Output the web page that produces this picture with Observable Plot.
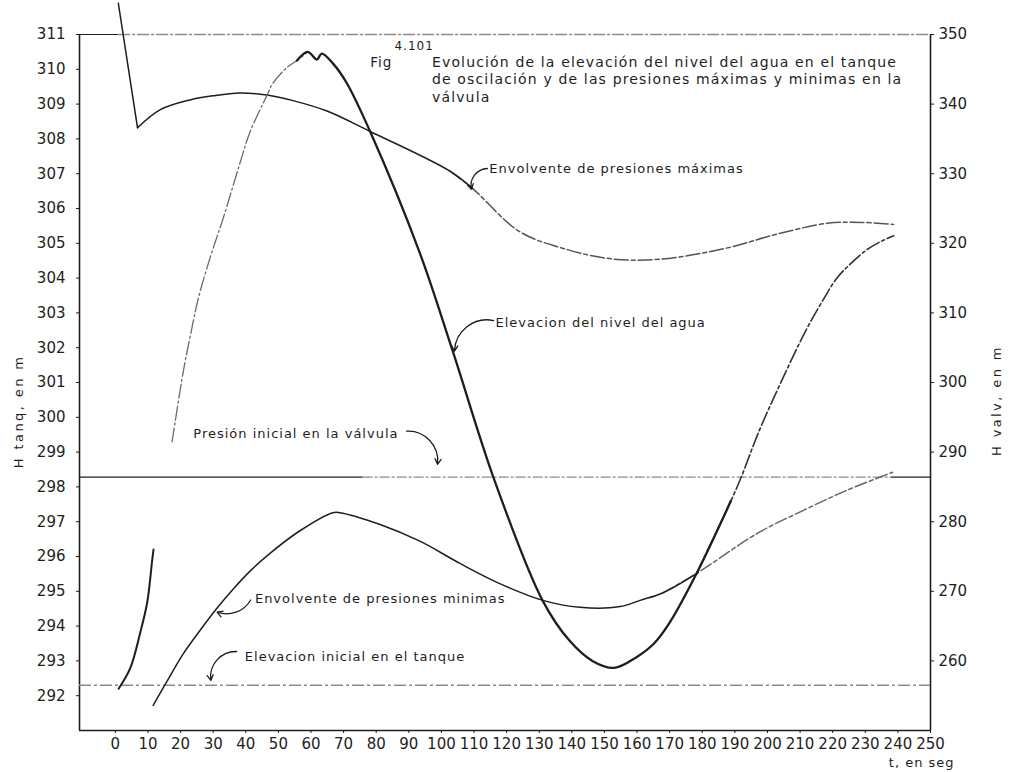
<!DOCTYPE html>
<html>
<head>
<meta charset="utf-8">
<script src="https://cdn.jsdelivr.net/npm/d3@7"></script>
<script src="https://cdn.jsdelivr.net/npm/@observablehq/plot@0.6"></script>
<style>
  body { margin: 0; background: #fff; }
  #chart svg { font-family: "DejaVu Sans", sans-serif; }
  #chart g[aria-label="text"] text { letter-spacing: 1px; }
</style>
</head>
<body>
<div id="chart"></div>
<script>
// Elevación del nivel del agua en el tanque, H tanq (m), contra t (s)
const tiempoNivel = [1, 4.6, 7.6, 9.8, 11.3, 11.7,
  17.4, 20.8, 22.9, 25.4, 29.1, 33.0, 38.2, 41.3, 46.5, 48.3, 52.6, 55.7,
  59.0, 61.8, 63.3, 66.7, 71.0, 78.0, 93.3, 103.4, 116.3, 131.0, 139.2,
  146.3, 153.0, 159.7, 165.2, 169.8, 178.4, 188.8, 191.9, 197.4, 204.4, 211.8,
  217.3, 221.2, 224.9, 230.1, 234.1, 238.7];
const nivelAgua = [292.2, 292.8, 293.8, 294.7, 295.9, 296.2,
  299.3, 301.3, 302.3, 303.4, 304.6, 305.7, 307.3, 308.2, 309.25, 309.6, 310.05, 310.25,
  310.5, 310.28, 310.45, 310.17, 309.6, 308.24, 304.74, 301.92, 298.18, 294.74, 293.59,
  293.0, 292.8, 293.1, 293.5, 294.07, 295.54, 297.6, 298.27, 299.6, 301.06, 302.5,
  303.41, 303.99, 304.36, 304.79, 305.02, 305.22];

// Envolvente de presiones máximas en la válvula, H valv (m)
const tiempoMax = [0.9, 6.8, 13.8, 22.9, 30.0, 38.2, 46.5, 54.5, 64.9, 78.0, 102.5,
  109.5, 123.9, 137.1, 151.5, 166.8, 187.3, 203.5, 218.8, 228.9, 238.7];
const presionMax = [354.5, 336.6, 339.2, 340.6, 341.2, 341.6, 341.3, 340.5, 339.0, 336.1, 330.4,
  327.9, 321.7, 319.3, 317.8, 317.7, 319.3, 321.4, 322.9, 323.0, 322.7];

// Envolvente de presiones mínimas en la válvula, H valv (m)
const tiempoMin = [11.6, 16.0, 20.8, 26.0, 31.2, 36.1, 41.3, 46.5, 56.6, 66.7, 68.8, 81.2,
  93.4, 105.7, 117.9, 131.1, 142.5, 154.8, 160.9, 168.0, 178.7, 196.8, 210.9, 224.3, 238.4];
const presionMin = [253.6, 257.2, 261.0, 264.4, 267.6, 270.3, 272.9, 275.1, 278.7, 281.3, 281.3, 279.6,
  277.2, 274.0, 271.1, 268.7, 267.7, 267.8, 268.7, 269.8, 272.7, 278.3, 281.6, 284.5, 287.1];

// Condiciones iniciales
const presionInicialValvula = 286.4;   // H valv (m)
const elevacionInicialTanque = 292.3;  // H tanq (m)

// Marcas de los ejes
const ticksTiempo = d3.range(0, 251, 10);
const ticksTanque = d3.range(292, 312);
const ticksValvula = d3.range(260, 351, 10);

// Rótulos del dibujo
const rotulos = [
  {texto: "Envolvente de presiones máximas", t: 114.7, h: 307.15},
  {texto: "Elevacion del nivel del agua", t: 116.6, h: 302.72},
  {texto: "Presión inicial en la válvula", t: 23.9, h: 299.53},
  {texto: "Envolvente de presiones minimas", t: 42.8, h: 294.79},
  {texto: "Elevacion inicial en el tanque", t: 39.7, h: 293.13}
];
const flechas = [
  {t1: 114.1, h1: 307.15, t2: 109.2, h2: 306.55, giro: -50},
  {t1: 116.0, h1: 302.78, t2: 104.0, h2: 301.9, giro: -50},
  {t1: 89.3, h1: 299.6, t2: 98.8, h2: 298.65, giro: 50},
  {t1: 41.5, h1: 294.75, t2: 31.2, h2: 294.4, giro: 40},
  {t1: 37.2, h1: 293.27, t2: 29.3, h2: 292.44, giro: -50}
];
const tituloFig = [
  "Evolución de la elevación del nivel del agua en el tanque",
  "de oscilación y de las presiones máximas y minimas en la",
  "válvula"
];
const rotulosEjes = ["H tanq, en m", "H valv, en m"];

// H valv = 5·H tanq − 1205: ambas escalas comparten la vertical
const aTanque = hv => (hv + 1205) / 5;

const nivel = tiempoNivel.map((t, i) => ({t, h: nivelAgua[i]}));
const envMax = tiempoMax.map((t, i) => ({t, h: aTanque(presionMax[i])}));
const envMin = tiempoMin.map((t, i) => ({t, h: aTanque(presionMin[i])}));
// tramos que se solapan en un intervalo casi recto para que la curva no se quiebre
const tramo = (datos, a, b) => datos.filter(d => d.t >= a && d.t <= b);

const tinta = "#1e1e1e";
const gris = "#8c8c8c";
const hP = aTanque(presionInicialValvula);
const suave = {x: "t", y: "h", curve: "catmull-rom"};

const chart = Plot.plot({
  width: 1011,
  height: 772,
  marginLeft: 79,
  marginRight: 81,
  marginTop: 34,
  marginBottom: 42,
  style: {fontSize: "15px", fontFamily: "DejaVu Sans, sans-serif", color: tinta, background: "#fff"},
  x: {domain: [-11, 250], axis: null},
  y: {domain: [291, 311], axis: null},
  marks: [
    // marco
    Plot.ruleX([-11], {y1: 291, y2: 311, stroke: tinta, strokeWidth: 1.6}),
    Plot.ruleX([250], {y1: 291, y2: 311, stroke: tinta, strokeWidth: 1.6}),
    Plot.ruleY([291], {x1: -11, x2: 250, stroke: tinta, strokeWidth: 1.4}),
    Plot.ruleY([311], {x1: -11, x2: 1, stroke: tinta, strokeWidth: 1.2}),
    Plot.ruleY([311], {x1: 1, x2: 250, stroke: gris, strokeWidth: 1.3, strokeDasharray: "12,2,3,2"}),

    // condiciones iniciales
    Plot.ruleY([hP], {x1: -11, x2: 76, stroke: tinta, strokeWidth: 1.3}),
    Plot.ruleY([hP], {x1: 76, x2: 238, stroke: gris, strokeWidth: 1.3, strokeDasharray: "10,2,3,2"}),
    Plot.ruleY([hP], {x1: 238, x2: 250, stroke: tinta, strokeWidth: 1.3}),
    Plot.ruleY([elevacionInicialTanque], {x1: -11, x2: 250, stroke: gris, strokeWidth: 1.3, strokeDasharray: "12,3,3,3"}),

    // envolvente de presiones máximas
    Plot.line(tramo(envMax, 0, 6.8), {x: "t", y: "h", stroke: tinta, strokeWidth: 1.5}),
    Plot.line(tramo(envMax, 102, 240), {...suave, stroke: "#555", strokeWidth: 1.5, strokeDasharray: "14,3,4,3"}),
    Plot.line(tramo(envMax, 6.8, 110), {...suave, stroke: tinta, strokeWidth: 1.5}),

    // envolvente de presiones mínimas
    Plot.line(tramo(envMin, 167, 240), {...suave, stroke: "#666", strokeWidth: 1.5, strokeDasharray: "12,3,4,3"}),
    Plot.line(tramo(envMin, 0, 179), {...suave, stroke: tinta, strokeWidth: 1.5}),

    // elevación del nivel del agua
    Plot.line(tramo(nivel, 0, 12), {...suave, stroke: tinta, strokeWidth: 2}),
    Plot.line(tramo(nivel, 17, 59.5), {...suave, stroke: "#6a6a6a", strokeWidth: 1.3, strokeDasharray: "14,3,2,3"}),
    Plot.line(tramo(nivel, 178, 240), {...suave, stroke: "#333", strokeWidth: 1.6, strokeDasharray: "14,3,3,3"}),
    Plot.line(tramo(nivel, 55, 189), {...suave, stroke: tinta, strokeWidth: 2.3}),

    // ejes
    Plot.axisX(ticksTiempo, {anchor: "bottom", tickSize: 3, tickPadding: 5, label: null, stroke: tinta}),
    Plot.axisY(ticksTanque, {anchor: "left", tickSize: 3, tickPadding: 11, label: null, stroke: tinta}),
    Plot.axisY(ticksValvula.map(aTanque), {anchor: "right", tickSize: 3, tickPadding: 5, label: null, stroke: tinta,
      tickFormat: d => String(Math.round(5 * d - 1205))}),

    // rótulos de los ejes
    Plot.text([rotulosEjes[0]], {x: -29.7, y: 300.17, rotate: -90, fontSize: 13, fill: tinta}),
    Plot.text([rotulosEjes[1]], {x: 270.2, y: 300.48, rotate: -90, fontSize: 13, fill: tinta}),
    Plot.text(["t, en seg"], {x: 247.3, y: 290.08, fontSize: 13, fill: tinta}),

    // título
    Plot.text(["Fig"], {x: 78.2, y: 310.2, textAnchor: "start", fontSize: 13.5, fill: tinta}),
    Plot.text(["4.101"], {x: 85.6, y: 310.66, textAnchor: "start", fontSize: 12, fill: tinta}),
    Plot.text(tituloFig, {x: 97.1, y: (d, i) => 310.2 - i * 0.5, textAnchor: "start", fontSize: 14, fill: tinta}),

    // rótulos y flechas
    Plot.text(rotulos, {x: "t", y: "h", text: "texto", textAnchor: "start", fontSize: 13, fill: tinta}),
    ...flechas.map(f => Plot.arrow([f], {x1: "t1", y1: "h1", x2: "t2", y2: "h2", bend: f.giro,
      stroke: tinta, strokeWidth: 1.3, headLength: 7}))
  ]
});

// espaciado de letras del título y de los rótulos de los ejes verticales
d3.select(chart).selectAll("text")
  .filter(function () { return tituloFig.includes(this.textContent); })
  .style("letter-spacing", "1.15px");
d3.select(chart).selectAll("text")
  .filter(function () { return rotulosEjes.includes(this.textContent); })
  .style("letter-spacing", "2.4px");

document.getElementById("chart").append(chart);
</script>
</body>
</html>
